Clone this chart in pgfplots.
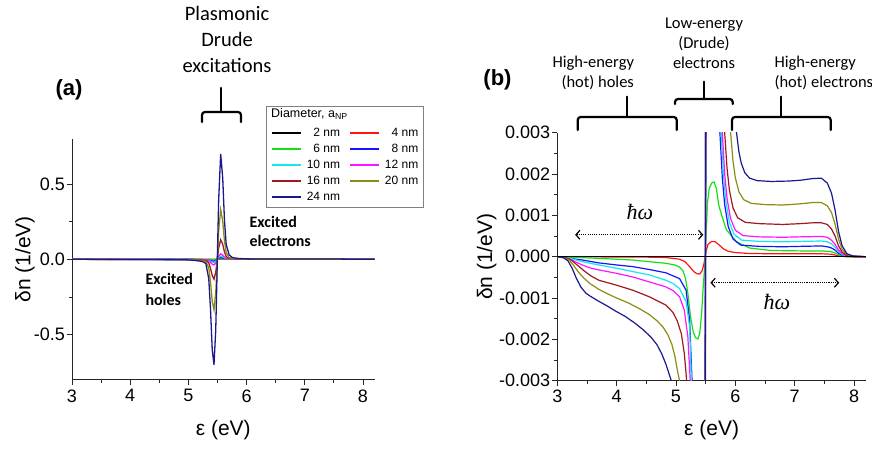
\documentclass[border=0pt]{standalone}
\usepackage{pgfplots}
\pgfplotsset{compat=1.18}
\usepackage{pgfplotstable}
\usetikzlibrary{arrows.meta}
\usepackage{fontspec}
\setmainfont{Liberation Sans}
\newfontfamily\carlito{Carlito}
\newfontfamily\timesit{Liberation Serif}

\definecolor{c2}{RGB}{0,0,0}
\definecolor{c4}{RGB}{255,20,20}
\definecolor{c6}{RGB}{20,225,20}
\definecolor{c8}{RGB}{20,20,255}
\definecolor{c10}{RGB}{20,230,235}
\definecolor{c12}{RGB}{255,20,255}
\definecolor{c16}{RGB}{160,25,30}
\definecolor{c20}{RGB}{140,140,20}
\definecolor{c24}{RGB}{25,25,140}

% energy (eV)  vs  change of occupation dn (1/eV)
\pgfplotstableread{
x y
3.00 0
8.20 0
}\dTwo
\pgfplotstableread{
x y
3.00 0
4.50 -0.00001
4.83 -0.00002
5.06 -0.00006
5.15 -0.00012
5.23 -0.00024
5.30 -0.00036
5.35 -0.00041
5.40 -0.00042
5.44 -0.00034
5.47 -0.00018
5.49 -0.00002
5.51 0.00015
5.54 0.00030
5.60 0.00037
5.66 0.00036
5.73 0.00028
5.80 0.00019
5.88 0.00013
6.00 0.00010
6.20 0.00008
6.60 0.00007
7.45 0.00007
7.62 0.00006
7.74 0.00002
7.88 0
8.20 0
}\dFour
\pgfplotstableread{
x y
3.00 0
3.70 -0.00004
4.27 -0.00008
4.55 -0.00012
4.83 -0.00016
4.98 -0.00020
5.06 -0.00025
5.12 -0.00035
5.16 -0.00052
5.20 -0.00089
5.25 -0.00150
5.29 -0.00182
5.33 -0.00196
5.37 -0.00199
5.40 -0.00185
5.43 -0.00140
5.46 -0.00070
5.49 -0.00010
5.51 0.00060
5.53 0.00130
5.56 0.00165
5.60 0.00178
5.64 0.00181
5.68 0.00165
5.72 0.00125
5.77 0.00100
5.85 0.00065
6.02 0.00036
6.24 0.00021
6.60 0.00015
7.10 0.00014
7.45 0.00014
7.62 0.00012
7.68 0.00009
7.74 0.00005
7.80 0.00002
7.88 0
8.20 0
}\dSix
\pgfplotstableread{
x y
3.00 0
3.42 -0.00008
3.70 -0.00015
4.00 -0.00020
4.27 -0.00024
4.55 -0.00031
4.83 -0.00039
5.06 -0.00053
5.17 -0.00081
5.23 -0.00154
5.27 -0.00300
5.30 -0.0038
5.35 -0.0054
5.38 -0.0078
5.41 -0.0108
5.44 -0.0122
5.47 -0.0080
5.49 -0.0024
5.50 0.0008
5.52 0.0060
5.555 0.0110
5.59 0.0088
5.62 0.0052
5.65 0.0038
5.70 0.0033
5.74 0.0030
5.78 0.00192
5.82 0.00126
5.88 0.00073
5.96 0.00043
6.09 0.00028
6.40 0.00025
6.80 0.00024
7.10 0.00025
7.45 0.00026
7.55 0.00024
7.62 0.00021
7.68 0.00016
7.74 0.00008
7.80 0.00004
7.88 0.00001
8.20 0
}\dEight
\pgfplotstableread{
x y
3.00 0
3.20 -0.00003
3.42 -0.00012
3.70 -0.00020
4.00 -0.00028
4.27 -0.00036
4.55 -0.00044
4.83 -0.00057
4.95 -0.00065
5.06 -0.00077
5.17 -0.00109
5.23 -0.00170
5.26 -0.00300
5.30 -0.0042
5.35 -0.0072
5.38 -0.0125
5.41 -0.0195
5.44 -0.0220
5.47 -0.0145
5.49 -0.0045
5.50 0.0016
5.52 0.0115
5.555 0.0210
5.59 0.0165
5.62 0.0085
5.65 0.0045
5.70 0.0036
5.76 0.0030
5.80 0.00197
5.84 0.00134
5.90 0.00083
5.98 0.00054
6.11 0.00040
6.40 0.00037
6.80 0.00036
7.10 0.00037
7.45 0.00038
7.55 0.00036
7.62 0.00031
7.68 0.00023
7.74 0.00012
7.80 0.00005
7.88 0.00001
8.20 0
}\dTen
\pgfplotstableread{
x y
3.00 0
3.20 -0.00005
3.30 -0.00012
3.42 -0.00020
3.55 -0.00027
3.70 -0.00032
3.99 -0.00040
4.27 -0.00049
4.55 -0.00061
4.83 -0.00073
4.95 -0.00082
5.06 -0.00097
5.14 -0.00129
5.20 -0.00194
5.24 -0.00300
5.30 -0.0048
5.35 -0.0109
5.38 -0.0200
5.41 -0.0330
5.44 -0.0380
5.47 -0.0250
5.49 -0.0075
5.50 0.0027
5.52 0.0200
5.555 0.0360
5.59 0.0280
5.62 0.0140
5.65 0.0058
5.70 0.0039
5.74 0.0034
5.78 0.0030
5.82 0.00201
5.86 0.00141
5.92 0.00092
6.00 0.00064
6.13 0.00051
6.40 0.00048
6.80 0.00047
7.10 0.00048
7.45 0.00049
7.55 0.00047
7.62 0.00040
7.68 0.00030
7.74 0.00016
7.80 0.00007
7.88 0.00002
8.00 0
8.20 0
}\dTwelve
\pgfplotstableread{
x y
3.00 0
3.15 -0.00002
3.25 -0.00010
3.35 -0.00022
3.45 -0.00034
3.56 -0.00046
3.70 -0.00057
3.85 -0.00063
4.00 -0.00069
4.27 -0.00081
4.55 -0.00097
4.83 -0.00117
4.95 -0.00135
5.02 -0.00155
5.09 -0.00186
5.14 -0.00234
5.18 -0.00300
5.25 -0.0045
5.30 -0.0071
5.35 -0.024
5.38 -0.060
5.41 -0.108
5.44 -0.132
5.47 -0.086
5.49 -0.025
5.50 0.0095
5.52 0.073
5.555 0.130
5.59 0.100
5.62 0.049
5.65 0.0175
5.70 0.0065
5.75 0.0042
5.82 0.0030
5.86 0.00214
5.90 0.00161
5.96 0.00118
6.04 0.00094
6.17 0.00083
6.40 0.00080
6.80 0.00078
7.10 0.00080
7.30 0.00082
7.45 0.00082
7.55 0.00078
7.62 0.00067
7.68 0.00050
7.74 0.00026
7.80 0.00011
7.88 0.00003
8.00 0
8.20 0
}\dSixteen
\pgfplotstableread{
x y
3.00 0
3.12 -0.00002
3.20 -0.00008
3.28 -0.00022
3.36 -0.00038
3.45 -0.00052
3.55 -0.00065
3.70 -0.00079
3.85 -0.00090
4.00 -0.00100
4.20 -0.00112
4.40 -0.00127
4.55 -0.00140
4.68 -0.00155
4.78 -0.00170
4.86 -0.00188
4.93 -0.00212
4.98 -0.00240
5.03 -0.00280
5.06 -0.00300
5.10 -0.0036
5.20 -0.0060
5.25 -0.0080
5.30 -0.0147
5.35 -0.056
5.38 -0.150
5.41 -0.280
5.44 -0.335
5.47 -0.222
5.49 -0.066
5.50 0.024
5.52 0.186
5.555 0.330
5.59 0.254
5.62 0.123
5.65 0.045
5.70 0.011
5.75 0.0060
5.80 0.0045
5.86 0.0036
5.92 0.0030
5.96 0.00232
6.00 0.00191
6.06 0.00157
6.14 0.00138
6.27 0.00129
6.50 0.00126
6.80 0.00125
7.10 0.00128
7.30 0.00131
7.45 0.00131
7.55 0.00123
7.62 0.00107
7.68 0.00079
7.74 0.00042
7.80 0.00018
7.88 0.00005
7.98 0.00001
8.20 0
}\dTwenty
\pgfplotstableread{
x y
3.00 0
3.10 -0.00002
3.18 -0.00010
3.25 -0.00028
3.32 -0.00052
3.40 -0.00074
3.48 -0.00088
3.56 -0.00096
3.70 -0.00108
3.85 -0.00120
4.00 -0.00133
4.15 -0.00145
4.30 -0.00160
4.45 -0.00177
4.58 -0.00195
4.68 -0.00213
4.76 -0.00235
4.83 -0.00260
4.88 -0.00282
4.92 -0.00300
5.00 -0.0042
5.10 -0.0070
5.20 -0.0120
5.25 -0.0160
5.30 -0.028
5.35 -0.128
5.38 -0.330
5.41 -0.600
5.44 -0.700
5.47 -0.470
5.49 -0.140
5.50 0.050
5.52 0.390
5.555 0.700
5.59 0.540
5.62 0.260
5.65 0.098
5.70 0.030
5.75 0.013
5.80 0.0085
5.86 0.0060
5.92 0.0045
5.97 0.0036
6.02 0.0030
6.06 0.00254
6.10 0.00226
6.16 0.00203
6.24 0.00190
6.37 0.00184
6.60 0.00182
6.90 0.00183
7.10 0.00185
7.30 0.00189
7.45 0.00190
7.55 0.00178
7.62 0.00154
7.68 0.00113
7.74 0.00060
7.80 0.00026
7.88 0.00007
7.98 0.00002
8.20 0
}\dTwentyFour

\pgfplotsset{
  panel/.style={
    scale only axis, anchor=south west,
    xmin=3, xmax=8.2,
    axis x line*=bottom, axis y line*=left,
    axis line style={line width=0.9pt, black!85},
    tick align=outside, tick style={line width=0.9pt, black!85},
    major tick length=5pt, minor tick length=3pt,
    xtick={3,4,5,6,7,8}, xticklabels={3,4,5,6,7,8},
    minor x tick num=1, minor y tick num=1,
    ticklabel style={font=\fontsize{18}{21}\selectfont},
    xticklabel style={inner sep=2pt, yshift=-2.5pt},
    yticklabel style={inner sep=2pt},
    label style={font=\fontsize{21}{25}\selectfont},
    scaled y ticks=false,
    every axis plot/.append style={no markers},
  },
}
\tikzset{
  hwarrow/.style={line width=1.2pt, dash pattern=on 1.1pt off 1.1pt,
    {Straight Barb[length=4pt,width=9pt,line width=1.2pt]}-{Straight Barb[length=4pt,width=9pt,line width=1.2pt]}},
  brk/.style={line width=2.2pt, rounded corners=3pt, line cap=round},
}

\begin{document}
\begin{tikzpicture}[x=1pt,y=1pt]
\useasboundingbox (0,0) rectangle (872,448);

% ---------- panel (a): full scale ----------
\begin{axis}[panel,
  at={(72pt,68.2pt)}, width=302.6pt, height=241pt,
  ymin=-0.8, ymax=0.8,
  ytick={-0.5,0,0.5}, yticklabels={-0.5,0.0,0.5},
  xlabel={ε (eV)}, ylabel={δn (1/eV)},
  xlabel style={at={(axis description cs:0.5,-0.2083)}, anchor=center},
  ylabel style={at={(axis description cs:-0.1553,0.5)}, anchor=center},
  every axis plot/.append style={line width=1.3pt},
  legend columns=2,
  legend cell align=right,
  legend image code/.code={\draw[#1, line width=1.8pt] (0pt,0pt) -- (29pt,0pt);},
  legend style={at={(axis description cs:0.6576,1.0535)}, anchor=north west,
    draw=none, fill=none, inner sep=0pt, outer sep=0pt,
    font=\fontsize{12}{14}\selectfont,
    nodes={inner sep=1.5pt, text height=8.6pt, text depth=2.6pt},
    row sep=1.8pt, column sep=3.5pt,
    /tikz/every even column/.append style={column sep=7.5pt}},
]
\addplot[c2]  table {\dTwo};        \addlegendentry{2 nm}
\addplot[c4]  table {\dFour};       \addlegendentry{4 nm}
\addplot[c6]  table {\dSix};        \addlegendentry{6 nm}
\addplot[c8]  table {\dEight};      \addlegendentry{8 nm}
\addplot[c10] table {\dTen};        \addlegendentry{10 nm}
\addplot[c12] table {\dTwelve};     \addlegendentry{12 nm}
\addplot[c16] table {\dSixteen};    \addlegendentry{16 nm}
\addplot[c20] table {\dTwenty};     \addlegendentry{20 nm}
\addplot[c24] table {\dTwentyFour}; \addlegendentry{24 nm}
\end{axis}

% ---------- panel (b): magnified wings ----------
\begin{axis}[panel,
  at={(557.3pt,67.3pt)}, width=308.6pt, height=248pt,
  ymin=-0.003, ymax=0.003,
  ytick={-0.003,-0.002,-0.001,0,0.001,0.002,0.003},
  yticklabels={-0.003,-0.002,-0.001,0.000,0.001,0.002,0.003},
  xlabel={ε (eV)}, ylabel={δn (1/eV)},
  xlabel style={at={(axis description cs:0.5,-0.1988)}, anchor=center},
  ylabel style={at={(axis description cs:-0.2288,0.5)}, anchor=center},
  every axis plot/.append style={line width=1.2pt},
  % peaks far outside the window are held at the edge so the lines stay continuous
  restrict y to domain*=-0.02:0.02,
]
\addplot[c4]  table {\dFour};
\addplot[c6]  table {\dSix};
\addplot[c8]  table {\dEight};
\addplot[c10] table {\dTen};
\addplot[c12] table {\dTwelve};
\addplot[c16] table {\dSixteen};
\addplot[c20] table {\dTwenty};
\addplot[c24] table {\dTwentyFour};
\addplot[c2]  table {\dTwo};
% photon energy spans
\draw[hwarrow] (axis cs:3.30,0.00053) -- (axis cs:5.46,0.00053);
\draw[hwarrow] (axis cs:5.58,-0.00063) -- (axis cs:7.75,-0.00063);
\end{axis}

% legend frame and title
\draw[black!50, line width=0.8pt] (266,241) rectangle (423,342);
\node[anchor=west, inner sep=0pt, font=\fontsize{12.5}{14}\selectfont] at (271,334) {Diameter, a\textsubscript{NP}};

% panel letters
\node[font=\fontsize{22}{26}\selectfont\bfseries] at (69,358) {(a)};
\node[font=\fontsize{22}{26}\selectfont\bfseries] at (497.5,368) {(b)};

% annotations
\node[align=center, font=\carlito\fontsize{20.5}{26}\selectfont] at (227,409) {Plasmonic\\Drude\\excitations};
\draw[brk] (202,326) -- (202,336) -- (241,336) -- (241,326);
\draw[brk] (221,336) -- (221,360);

\node[align=left, anchor=west, font=\carlito\bfseries\fontsize{16}{19.5}\selectfont] at (246,216.5) {Excited\\electrons};
\node[align=left, anchor=west, font=\carlito\bfseries\fontsize{16}{20.5}\selectfont] at (142,158.5) {Excited\\holes};

\node[align=right, anchor=east, font=\carlito\fontsize{16.5}{20}\selectfont] at (637.5,375) {High-energy\\(hot) holes};
\node[align=center, font=\carlito\fontsize{16.5}{20}\selectfont] at (704,405) {Low-energy\\(Drude)\\electrons};
\node[align=left, anchor=west, font=\carlito\fontsize{16.5}{20}\selectfont] at (771,375) {High-energy\\(hot) electrons};

\draw[brk] (577.7,318) -- (577.7,331) -- (676.7,331) -- (676.7,318);
\draw[brk] (626.7,331) -- (626.7,351.3);
\draw[brk] (675,344) -- (675,349) -- (732.7,349) -- (732.7,344);
\draw[brk] (704,349) -- (704,366.3);
\draw[brk] (732,318) -- (732,331) -- (830.7,331) -- (830.7,318);
\draw[brk] (780.7,331) -- (780.7,351.3);

\node[font=\timesit\itshape\fontsize{22}{24}\selectfont] at (640,236) {ħω};
\node[font=\timesit\itshape\fontsize{22}{24}\selectfont] at (777,146) {ħω};
\end{tikzpicture}
\end{document}
